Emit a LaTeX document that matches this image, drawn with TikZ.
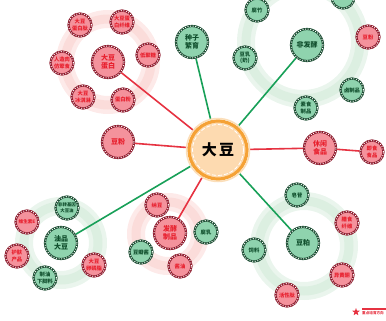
\documentclass[tikz,border=0pt]{standalone}
\usepackage{fontspec}
\setmainfont{Noto Sans CJK SC}
\usetikzlibrary{shapes.geometric,backgrounds}
\definecolor{redfill}{HTML}{F4929C}
\definecolor{reddark}{HTML}{8E1A2C}
\definecolor{redtext}{HTML}{E8202E}
\definecolor{redline}{HTML}{E63241}
\definecolor{greenfill}{HTML}{8FD3AE}
\definecolor{greendark}{HTML}{1B4D32}
\definecolor{greentext}{HTML}{0F4E2C}
\definecolor{greenline}{HTML}{18A058}
\definecolor{orangefill}{HTML}{FDDAB0}
\definecolor{orangedark}{HTML}{F5A236}
\definecolor{pinkhalo}{HTML}{FBDCDA}
\definecolor{greenhalo}{HTML}{DCEFE1}
\tikzset{
  ball/.style={circle,inner sep=0pt,align=center,minimum size=23pt,
    font=\bfseries\fontsize{5.3}{6.2}\selectfont},
  redball/.style={ball,fill=redfill,text=redtext,draw=reddark,line width=2.2pt,
    postaction={draw=white,line width=0.9pt,dash pattern=on 1pt off 1.6pt}},
  greenball/.style={ball,fill=greenfill,text=greentext,draw=greendark,line width=2.2pt,
    postaction={draw=white,line width=0.9pt,dash pattern=on 1pt off 1.6pt}},
  bigball/.style={minimum size=32pt,font=\bfseries\fontsize{7}{8.2}\selectfont},
  redhalo/.style={draw=pinkhalo!60,line width=18pt,
    postaction={draw=pinkhalo,line width=9pt}},
  greenhalo/.style={draw=greenhalo!60,line width=18pt,
    postaction={draw=greenhalo,line width=9pt}},
  redlink/.style={draw=redline,line width=1.6pt},
  greenlink/.style={draw=greenline,line width=1.6pt}
}
\begin{document}
\begin{tikzpicture}[x=1pt,y=-1pt]
                \useasboundingbox (0,0) rectangle (386,321) ;
                % centre
                \node [circle,fill=orangefill,draw=orangedark,line width=3.2pt,minimum size=58pt,
                  inner sep=0pt,font=\bfseries\fontsize{15}{15}\selectfont] (dadou) at (218,150) {大\,豆} ;
                \draw [white,line width=0.8pt,dash pattern=on 4pt off 2pt] (dadou.center) circle (25.5pt) ;
                \draw [orangedark!35,line width=1.5pt] (dadou.center) circle (31.5pt) ;
                % soy protein
                \node [redball,bigball] (danbai) at (108,62) {大豆\\蛋白} ;
                \node [redball] (dbtai) at (80,25) {大豆\\蛋白肽} ;
                \node [redball] (dbxw) at (122,22) {大豆蛋\\白纤维} ;
                \node [redball] (dijutang) at (148,55) {低聚糖} ;
                \node [redball] (renzaorou) at (62,63) {人造肉\\仿荤食} ;
                \node [redball] (bingqilin) at (83,97) {大豆\\冰淇淋} ;
                \node [redball] (danbaifen) at (123,100) {蛋白粉} ;
                % seed
                \node [greenball,bigball] (zhongzi) at (192,42) {种子\\繁育} ;
                % non fermented
                \node [greenball,bigball] (feifajiao) at (307,45) {非发酵} ;
                \node [greenball] (fuzhu) at (257,10) {腐竹} ;
                \node [greenball] (dingbu) at (343,-3) {} ;
                \node [greenball] (douru) at (245,58) {豆乳\\(奶)} ;
                \node [redball] (doufenR) at (368,37) {豆粉} ;
                \node [greenball] (luzhipin) at (352,90) {卤制品} ;
                \node [greenball] (sushi) at (306,108) {素食\\制品} ;
                % flour, snacks
                \node [redball,bigball] (doufenL) at (118,142) {豆粉} ;
                \node [redball,bigball] (xiuxian) at (320,148) {休闲\\食品} ;
                \node [redball] (jishi) at (372,152) {即食\\食品} ;
                % oil
                \node [greenball,bigball] (youpin) at (61,243) {油品\\大豆} ;
                \node [greenball,font=\bfseries\fontsize{4.4}{5.4}\selectfont] (fzjy) at (67,208) {非转基因\\大豆油} ;
                \node [redball,font=\bfseries\fontsize{4.6}{5.4}\selectfont] (vitE) at (27,222) {维生素E} ;
                \node [redball] (hufu) at (17,256) {护肤\\产品} ;
                \node [greenball] (xiajiao) at (45,278) {制油\\下脚料} ;
                \node [redball] (luanlinzhi) at (94,265) {大豆\\卵磷脂} ;
                % fermented
                \node [redball,bigball] (fajiao) at (170,233) {发酵\\制品} ;
                \node [redball] (nadou) at (157,205) {纳豆} ;
                \node [greenball] (furu) at (206,232) {腐乳} ;
                \node [greenball] (doubanjiang) at (141,252) {豆瓣酱} ;
                \node [redball] (jiangyou) at (180,266) {酱油} ;
                % meal
                \node [greenball,bigball] (doupo) at (303,243) {豆粕} ;
                \node [greenball] (zaogan) at (297,195) {皂苷} ;
                \node [redball] (shanshi) at (347,223) {膳食\\纤维} ;
                \node [greenball] (siliao) at (254,250) {饲料} ;
                \node [redball] (yihuangtong) at (342,275) {异黄酮} ;
                \node [redball] (huoxingtai) at (287,295) {活性肽} ;
                % legend
                \node [star,star points=5,star point ratio=2.4,fill=redline,inner sep=0pt,minimum size=8pt] (xing) at (356,312) {} ;
                \fill [redline] (362,307.5) rectangle (386,309.5) ;
                \node [anchor=west,inner sep=0pt,text=redline,font=\bfseries\fontsize{3.6}{4}\selectfont] (tuli) at (362,313.5) {重点培育方向} ;
                \begin{scope}[on background layer]
                  \draw [redhalo] (danbai.center) circle (43pt) ;
                  \draw [greenhalo] (303,42) circle (57pt) ;
                  \draw [greenhalo] (youpin.center) circle (37pt) ;
                  \draw [redhalo] (168,234) circle (32pt) ;
                  \draw [greenhalo] (304,246) circle (45pt) ;
                  \draw [redlink] (dadou) -- (danbai) ;
                  \draw [greenlink] (dadou) -- (zhongzi) ;
                  \draw [greenlink] (dadou) -- (feifajiao) ;
                  \draw [redlink] (dadou) -- (doufenL) ;
                  \draw [redlink] (dadou) -- (xiuxian) ;
                  \draw [redlink] (xiuxian) -- (jishi) ;
                  \draw [greenlink] (dadou) -- (youpin) ;
                  \draw [redlink] (dadou) -- (fajiao) ;
                  \draw [greenlink] (dadou) -- (doupo) ;
                \end{scope}
\end{tikzpicture}
\end{document}
